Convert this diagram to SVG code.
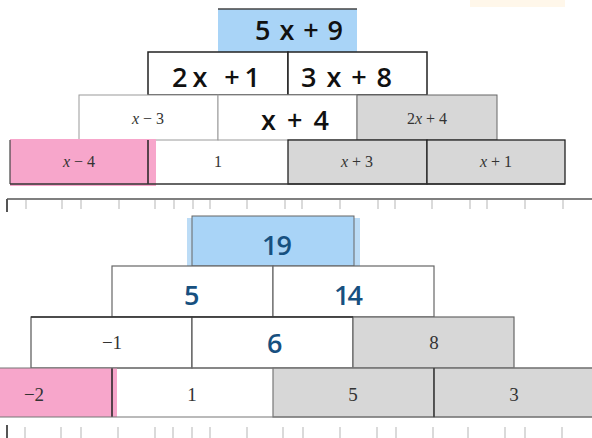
<svg xmlns="http://www.w3.org/2000/svg" width="592" height="438" viewBox="0 0 592 438">
<style>
.blue{fill:#a9d4f7}
.pink{fill:#f7a6cb}
.gray{fill:#d7d7d7}
.white{fill:#ffffff}
.hand{font-family:"Open Sans","DejaVu Sans",sans-serif;font-weight:600;font-size:27px}
.hk{fill:#111111}
.hb{fill:#17507f}
.tt{font-family:"Liberation Serif","DejaVu Serif",serif;fill:#333333;text-anchor:middle}
.t1{font-size:16px}
.t2{font-size:19px}
.ruler{stroke:#b5b5b5;stroke-width:1}
</style>
<rect width="592" height="438" fill="#ffffff"/>
<rect x="470" y="0" width="95" height="7" fill="#fff7ea"/>

<!-- Top pyramid -->
<g id="top-apex">
<rect class="blue" x="218" y="9" width="139" height="43"/>
<line x1="218" y1="9" x2="357" y2="9" stroke="#444" stroke-width="1.5"/>
<text class="hand hk" x="255" y="40" textLength="88" lengthAdjust="spacing">5x+9</text>
</g>
<g id="top-r2-c1">
<rect class="white" x="148" y="52" width="140" height="43" stroke="#222" stroke-width="1.5"/>
<text class="hand hk" x="172" y="87" textLength="88" lengthAdjust="spacing">2x +1</text>
</g>
<g id="top-r2-c2">
<rect class="white" x="288" y="52" width="139" height="43" stroke="#222" stroke-width="1.5"/>
<text class="hand hk" x="301" y="87" textLength="91" lengthAdjust="spacing">3x+8</text>
</g>
<g id="top-r3-c1">
<rect class="white" x="79" y="95" width="139" height="45" stroke="#9a9a9a" stroke-width="1"/>
<text class="tt t1" x="148" y="124"><tspan font-style="italic">x</tspan> − 3</text>
</g>
<g id="top-r3-c2">
<rect class="white" x="218" y="95" width="139" height="45" stroke="#9a9a9a" stroke-width="1"/>
<text class="hand hk" x="261" y="130" textLength="68" lengthAdjust="spacing">x+4</text>
</g>
<g id="top-r3-c3">
<rect class="gray" x="357" y="95" width="140" height="45" stroke="#666" stroke-width="1"/>
<text class="tt t1" x="427" y="124">2<tspan font-style="italic">x</tspan> + 4</text>
</g>
<g id="top-r4-c1">
<rect class="pink" x="10" y="139" width="146" height="47"/>
<line x1="10" y1="140" x2="10" y2="184" stroke="#444" stroke-width="1.2"/>
<line x1="148" y1="140" x2="148" y2="184" stroke="#222" stroke-width="1.5"/>
<text class="tt t1" x="79" y="167"><tspan font-style="italic">x</tspan> − 4</text>
</g>
<g id="top-r4-c2">
<text class="tt t1" x="218" y="167">1</text>
</g>
<g id="top-r4-c3">
<rect class="gray" x="288" y="140" width="139" height="44" stroke="#222" stroke-width="1.3"/>
<text class="tt t1" x="357" y="167"><tspan font-style="italic">x</tspan> + 3</text>
</g>
<g id="top-r4-c4">
<rect class="gray" x="427" y="140" width="138" height="44" stroke="#222" stroke-width="1.3"/>
<text class="tt t1" x="496" y="167"><tspan font-style="italic">x</tspan> + 1</text>
</g>
<line x1="10" y1="184" x2="565" y2="184" stroke="#333" stroke-width="1.5"/>

<!-- Top ruler -->
<g id="ruler-top">
<line x1="7" y1="199" x2="592" y2="199" stroke="#555" stroke-width="1.5"/>
<line x1="7" y1="199" x2="7" y2="212" stroke="#555" stroke-width="2"/>
<path class="ruler" d="M26 200V209M62 200V209M81 200V209M119 200V209M155 200V209M174 200V209M193 200V209M210 200V209M247 200V209M285 200V209M302 200V209M340 200V209M378 200V209M395 200V209M432 200V209M470 200V209M487 200V209M525 200V209M563 200V209"/>
</g>

<!-- Bottom pyramid -->
<g id="bot-apex">
<rect x="187" y="218" width="173" height="50" fill="#bcdcf6"/>
<rect class="blue" x="192" y="216" width="162" height="50" stroke="#666" stroke-width="1"/>
<text class="hand hb" x="262" y="255" letter-spacing="-1">19</text>
</g>
<g id="bot-r2-c1">
<rect class="white" x="112" y="266" width="161" height="51" stroke="#666" stroke-width="1.2"/>
<text class="hand hb" x="184" y="305">5</text>
</g>
<g id="bot-r2-c2">
<rect class="white" x="273" y="266" width="161" height="51" stroke="#666" stroke-width="1.2"/>
<text class="hand hb" x="334" y="305" font-size="26" letter-spacing="-2">14</text>
</g>
<g id="bot-r3-c1">
<rect class="white" x="31" y="317" width="161" height="51" stroke="#555" stroke-width="1.2"/>
<text class="tt t2" x="112" y="349">−1</text>
</g>
<g id="bot-r3-c2">
<rect class="white" x="192" y="317" width="161" height="51" stroke="#555" stroke-width="1.2"/>
<text class="hand hb" x="267" y="353">6</text>
</g>
<g id="bot-r3-c3">
<rect class="gray" x="353" y="317" width="161" height="51" stroke="#666" stroke-width="1.2"/>
<text class="tt t2" x="434" y="349">8</text>
</g>
<line x1="31" y1="317" x2="353" y2="317" stroke="#333" stroke-width="1.5"/>
<g id="bot-r4-c1">
<rect class="pink" x="0" y="368" width="117" height="49"/>
<line x1="112" y1="368" x2="112" y2="417" stroke="#222" stroke-width="1.5"/>
<text class="tt t2" x="34" y="401">−2</text>
</g>
<g id="bot-r4-c2">
<text class="tt t2" x="192" y="401">1</text>
</g>
<g id="bot-r4-c3">
<rect class="gray" x="273" y="368" width="161" height="49" stroke="#777" stroke-width="1.2"/>
<text class="tt t2" x="353" y="401">5</text>
</g>
<g id="bot-r4-c4">
<rect class="gray" x="434" y="368" width="161" height="49" stroke="#777" stroke-width="1.2"/>
<text class="tt t2" x="514" y="401">3</text>
</g>
<line x1="0" y1="368" x2="592" y2="368" stroke="#777" stroke-width="1.2"/>
<line x1="0" y1="417" x2="592" y2="417" stroke="#777" stroke-width="1.2"/>
<line x1="434" y1="368" x2="434" y2="417" stroke="#333" stroke-width="1.3"/>

<!-- Bottom ruler -->
<g id="ruler-bottom">
<line x1="7" y1="425" x2="7" y2="438" stroke="#555" stroke-width="2"/>
<path class="ruler" d="M25 427V438M61 427V438M81 427V438M118 427V438M155 427V438M173 427V438M192 427V438M210 427V438M247 427V438M283 427V438M303 427V438M340 427V438M377 427V438M396 427V438M433 427V438M468 427V438M505 427V438M525 427V438M562 427V438"/>
</g>
</svg>
